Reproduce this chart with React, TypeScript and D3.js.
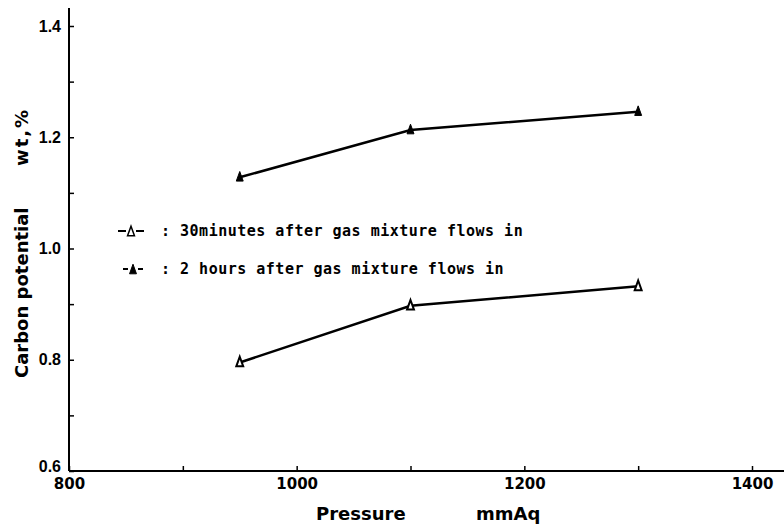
import React, { useEffect, useRef } from 'react'
import * as d3 from 'd3'

// pressure (mmAq) of the measured points
const pressure = [950, 1100, 1300]
// carbon potential wt,% : 30 minutes after gas mixture flows in (open triangles)
const after30min = [0.795, 0.897, 0.932]
// carbon potential wt,% : 2 hours after gas mixture flows in (filled triangles)
const after2h = [1.128, 1.213, 1.246]

const xTicks = [800, 900, 1000, 1100, 1200, 1300, 1400]
const xLabels = [800, 1000, 1200, 1400]
const yTicks = [0.6, 0.7, 0.8, 0.9, 1.0, 1.1, 1.2, 1.3, 1.4]
const yLabels = [0.6, 0.8, 1.0, 1.2, 1.4]
const legendLabels = [': 30minutes after gas mixture flows in', ': 2 hours after gas mixture flows in']

const W = 784
const H = 528

// taller-than-wide triangle, like the hand drawn markers
const tallTriangle = {
  draw(ctx: any, size: number) {
    const h = Math.sqrt(size) * 1.2
    const w = h * 0.72
    ctx.moveTo(0, -h / 2)
    ctx.lineTo(w / 2, h / 2)
    ctx.lineTo(-w / 2, h / 2)
    ctx.closePath()
  },
}

function App() {
  const ref = useRef<SVGSVGElement | null>(null)

  useEffect(() => {
    const svg = d3.select(ref.current)
    svg.selectAll('*').remove()

    const x = d3.scaleLinear().domain([800, 1400]).range([69, 752])
    const y = d3.scaleLinear().domain([0.6, 1.4]).range([471, 26])

    // axis lines
    svg.append('line')
      .attr('x1', x(800)).attr('x2', W).attr('y1', y(0.6)).attr('y2', y(0.6))
      .attr('stroke', '#000').attr('stroke-width', 2)
    svg.append('line')
      .attr('x1', x(800)).attr('x2', x(800)).attr('y1', y(0.6)).attr('y2', 8)
      .attr('stroke', '#000').attr('stroke-width', 2)

    const yAxis = d3.axisLeft(y)
      .tickValues(yTicks)
      .tickSize(-5)
      .tickPadding(8)
      .tickFormat((d: any) => yLabels.some(v => Math.abs(v - d) < 1e-9) ? d3.format('.1f')(d) : '')
    const gy = svg.append('g').attr('transform', `translate(${x(800)},0)`).call(yAxis)
    gy.select('.domain').remove()
    gy.selectAll('.tick line').attr('stroke', '#000').attr('stroke-width', 1.5)
    gy.selectAll('.tick text')
      .attr('font-family', 'Liberation Sans').attr('font-weight', 'bold').attr('font-size', 16)
      .attr('fill', '#000')
    gy.selectAll('.tick text').filter((d: any) => Math.abs(d - 0.6) < 1e-9).attr('dy', '0.0em')

    const xAxis = d3.axisBottom(x)
      .tickValues(xTicks)
      .tickSize(-5)
      .tickPadding(7)
      .tickFormat((d: any) => xLabels.includes(d) ? String(d) : '')
    const gx = svg.append('g').attr('transform', `translate(0,${y(0.6)})`).call(xAxis)
    gx.select('.domain').remove()
    gx.selectAll('.tick line').attr('stroke', '#000').attr('stroke-width', 1.5)
    gx.selectAll('.tick text')
      .attr('font-family', 'DejaVu Sans').attr('font-weight', 'bold').attr('font-size', 15)
      .attr('fill', '#000')

    // axis titles
    svg.append('text')
      .attr('transform', `translate(28,378) rotate(-90)`)
      .attr('font-family', 'DejaVu Sans').attr('font-weight', 'bold').attr('font-size', 18)
      .text('Carbon potential')
    svg.append('text')
      .attr('transform', `translate(28,166) rotate(-90)`)
      .attr('font-family', 'DejaVu Sans').attr('font-weight', 'bold').attr('font-size', 18)
      .attr('letter-spacing', 2)
      .text('wt,%')
    svg.append('text')
      .attr('x', 316).attr('y', 520)
      .attr('font-family', 'DejaVu Sans').attr('font-weight', 'bold').attr('font-size', 18)
      .text('Pressure')
    svg.append('text')
      .attr('x', 476).attr('y', 520)
      .attr('font-family', 'DejaVu Sans').attr('font-weight', 'bold').attr('font-size', 18)
      .text('mmAq')

    const line = d3.line<number>()
      .x((d, i) => x(pressure[i]))
      .y(d => y(d))
    const tri = d3.symbol().type(tallTriangle as any).size(64)

    const series = [
      { values: after30min, filled: false },
      { values: after2h, filled: true },
    ]

    series.forEach(s => {
      svg.append('path')
        .attr('d', line(s.values) as string)
        .attr('fill', 'none').attr('stroke', '#000').attr('stroke-width', 2.5)
      svg.append('g').selectAll('path').data(s.values).enter().append('path')
        .attr('d', tri() as string)
        .attr('transform', (d, i) => `translate(${x(pressure[i])},${y(d) - 1})`)
        .attr('fill', s.filled ? '#000' : '#fff')
        .attr('stroke', '#000').attr('stroke-width', s.filled ? 1 : 2)
    })

    // legend
    const legend = svg.append('g')
    legendLabels.forEach((lab, i) => {
      const ly = 231 + i * 38
      const filled = i === 1
      const cx = filled ? 133 : 131
      const half = filled ? 10 : 13
      legend.append('line')
        .attr('x1', cx - half).attr('x2', cx - 5).attr('y1', ly).attr('y2', ly)
        .attr('stroke', '#000').attr('stroke-width', 2)
      legend.append('line')
        .attr('x1', cx + 5).attr('x2', cx + half).attr('y1', ly).attr('y2', ly)
        .attr('stroke', '#000').attr('stroke-width', 2)
      legend.append('path')
        .attr('d', tri() as string)
        .attr('transform', `translate(${cx},${ly})`)
        .attr('fill', filled ? '#000' : '#fff')
        .attr('stroke', '#000').attr('stroke-width', filled ? 1 : 1.5)
      legend.append('text')
        .attr('x', 161).attr('y', ly + 5)
        .attr('font-family', 'DejaVu Sans Mono').attr('font-weight', 'bold').attr('font-size', 15)
        .attr('letter-spacing', 0.5)
        .text(lab)
    })
  }, [])

  return (
    <svg ref={ref} width={W} height={H}
      style={{ position: 'absolute', left: 0, top: 0, background: '#fff' }} />
  )
}

export default App
